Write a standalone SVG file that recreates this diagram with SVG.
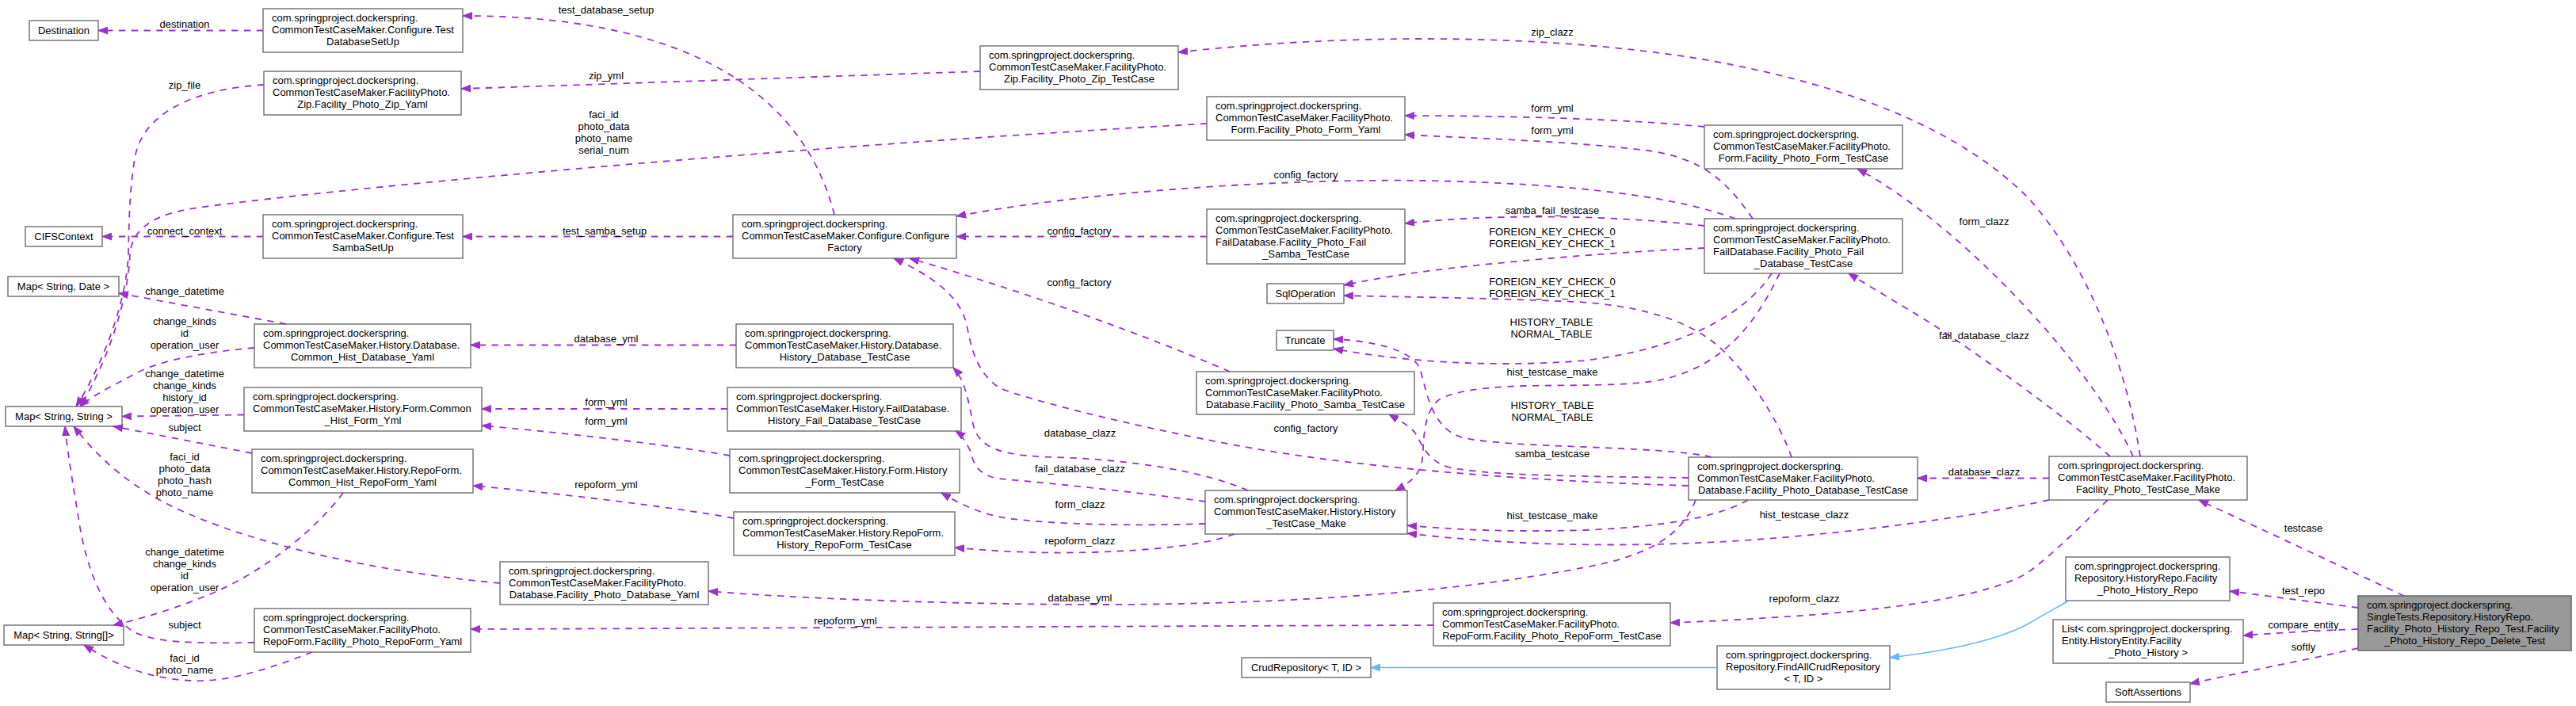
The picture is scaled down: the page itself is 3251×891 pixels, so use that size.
<svg xmlns="http://www.w3.org/2000/svg" width="3251" height="891" viewBox="0 0 3251 891">
<style>
text{font-family:"Liberation Sans",Arial,sans-serif;font-size:13px;fill:#000}
.m{text-anchor:middle}
.n rect{fill:#fff;stroke:#777;stroke-width:1.5}
.main rect{fill:#999;stroke:#666;stroke-width:1.5}
.e{fill:none;stroke:#9a32cd;stroke-width:1.8;stroke-dasharray:8.3,7.5;marker-end:url(#ap)}
.b{fill:none;stroke:#63b8ff;stroke-width:1.6;marker-end:url(#ab)}
</style>
<defs>
<marker id="ap" viewBox="0 0 12 10" refX="12" refY="5" markerWidth="12" markerHeight="10" markerUnits="userSpaceOnUse" orient="auto"><path d="M0,0.5 L12,5 L0,9.5 z" fill="#9a32cd" stroke="#9a32cd" stroke-width="1" stroke-dasharray="none"/></marker>
<marker id="ab" viewBox="0 0 12 10" refX="12" refY="5" markerWidth="12" markerHeight="10" markerUnits="userSpaceOnUse" orient="auto"><path d="M0,0.5 L12,5 L0,9.5 z" fill="#63b8ff" stroke="#63b8ff" stroke-width="1"/></marker>
</defs>
<rect width="3251" height="891" fill="#fff"/>

<g id="nodes">
<g id="n1" class="n"><rect x="37" y="26" width="87" height="25"/><text class="m" x="80.5" y="43">Destination</text></g>
<g id="n2" class="n"><rect x="332" y="11" width="252" height="55"/><text x="343" y="27">com.springproject.dockerspring.</text><text x="343" y="42">CommonTestCaseMaker.Configure.Test</text><text class="m" x="458" y="57">DatabaseSetUp</text></g>
<g id="n3" class="n"><rect x="333" y="90" width="249" height="55"/><text x="344" y="106">com.springproject.dockerspring.</text><text x="344" y="121">CommonTestCaseMaker.FacilityPhoto.</text><text class="m" x="457.5" y="136">Zip.Facility_Photo_Zip_Yaml</text></g>
<g id="n4" class="n"><rect x="32" y="286" width="97" height="25"/><text class="m" x="80.5" y="303">CIFSContext</text></g>
<g id="n5" class="n"><rect x="332" y="271" width="252" height="55"/><text x="343" y="287">com.springproject.dockerspring.</text><text x="343" y="302">CommonTestCaseMaker.Configure.Test</text><text class="m" x="458" y="317">SambaSetUp</text></g>
<g id="n6" class="n"><rect x="10" y="349" width="140" height="25"/><text class="m" x="80" y="366">Map&lt; String, Date &gt;</text></g>
<g id="n7" class="n"><rect x="321" y="409" width="273" height="55"/><text x="332" y="425">com.springproject.dockerspring.</text><text x="332" y="440">CommonTestCaseMaker.History.Database.</text><text class="m" x="457.5" y="455">Common_Hist_Database_Yaml</text></g>
<g id="n8" class="n"><rect x="7" y="513" width="147" height="25"/><text class="m" x="80.5" y="530">Map&lt; String, String &gt;</text></g>
<g id="n9" class="n"><rect x="308" y="489" width="300" height="55"/><text x="319" y="505">com.springproject.dockerspring.</text><text x="319" y="520">CommonTestCaseMaker.History.Form.Common</text><text class="m" x="458" y="535">_Hist_Form_Yml</text></g>
<g id="n10" class="n"><rect x="318" y="567" width="279" height="55"/><text x="329" y="583">com.springproject.dockerspring.</text><text x="329" y="598">CommonTestCaseMaker.History.RepoForm.</text><text class="m" x="457.5" y="613">Common_Hist_RepoForm_Yaml</text></g>
<g id="n11" class="n"><rect x="5" y="789" width="151" height="25"/><text class="m" x="80.5" y="806">Map&lt; String, String[]&gt;</text></g>
<g id="n12" class="n"><rect x="321" y="768" width="273" height="55"/><text x="332" y="784">com.springproject.dockerspring.</text><text x="332" y="799">CommonTestCaseMaker.FacilityPhoto.</text><text class="m" x="457.5" y="814">RepoForm.Facility_Photo_RepoForm_Yaml</text></g>
<g id="n13" class="n"><rect x="631" y="709" width="263" height="54"/><text x="642" y="725">com.springproject.dockerspring.</text><text x="642" y="740">CommonTestCaseMaker.FacilityPhoto.</text><text class="m" x="762.5" y="755">Database.Facility_Photo_Database_Yaml</text></g>
<g id="n14" class="n"><rect x="925" y="271" width="282" height="55"/><text x="936" y="287">com.springproject.dockerspring.</text><text x="936" y="302">CommonTestCaseMaker.Configure.Configure</text><text class="m" x="1066" y="317">Factory</text></g>
<g id="n15" class="n"><rect x="1237" y="58" width="250" height="55"/><text x="1248" y="74">com.springproject.dockerspring.</text><text x="1248" y="89">CommonTestCaseMaker.FacilityPhoto.</text><text class="m" x="1362" y="104">Zip.Facility_Photo_Zip_TestCase</text></g>
<g id="n16" class="n"><rect x="929" y="409" width="274" height="55"/><text x="940" y="425">com.springproject.dockerspring.</text><text x="940" y="440">CommonTestCaseMaker.History.Database.</text><text class="m" x="1066" y="455">History_Database_TestCase</text></g>
<g id="n17" class="n"><rect x="918" y="489" width="295" height="55"/><text x="929" y="505">com.springproject.dockerspring.</text><text x="929" y="520">CommonTestCaseMaker.History.FailDatabase.</text><text class="m" x="1065.5" y="535">History_Fail_Database_TestCase</text></g>
<g id="n18" class="n"><rect x="921" y="567" width="290" height="55"/><text x="932" y="583">com.springproject.dockerspring.</text><text x="932" y="598">CommonTestCaseMaker.History.Form.History</text><text class="m" x="1066" y="613">_Form_TestCase</text></g>
<g id="n19" class="n"><rect x="926" y="646" width="279" height="55"/><text x="937" y="662">com.springproject.dockerspring.</text><text x="937" y="677">CommonTestCaseMaker.History.RepoForm.</text><text class="m" x="1065.5" y="692">History_RepoForm_TestCase</text></g>
<g id="n20" class="n"><rect x="1523" y="122" width="250" height="55"/><text x="1534" y="138">com.springproject.dockerspring.</text><text x="1534" y="153">CommonTestCaseMaker.FacilityPhoto.</text><text class="m" x="1648" y="168">Form.Facility_Photo_Form_Yaml</text></g>
<g id="n21" class="n"><rect x="1523" y="264" width="250" height="69"/><text x="1534" y="280">com.springproject.dockerspring.</text><text x="1534" y="295">CommonTestCaseMaker.FacilityPhoto.</text><text x="1534" y="310">FailDatabase.Facility_Photo_Fail</text><text class="m" x="1648" y="325">_Samba_TestCase</text></g>
<g id="n22" class="n"><rect x="1599" y="358" width="97" height="25"/><text class="m" x="1647.5" y="375">SqlOperation</text></g>
<g id="n23" class="n"><rect x="1611" y="417" width="72" height="25"/><text class="m" x="1647" y="434">Truncate</text></g>
<g id="n24" class="n"><rect x="2151" y="158" width="250" height="55"/><text x="2162" y="174">com.springproject.dockerspring.</text><text x="2162" y="189">CommonTestCaseMaker.FacilityPhoto.</text><text class="m" x="2276" y="204">Form.Facility_Photo_Form_TestCase</text></g>
<g id="n25" class="n"><rect x="2151" y="276" width="250" height="69"/><text x="2162" y="292">com.springproject.dockerspring.</text><text x="2162" y="307">CommonTestCaseMaker.FacilityPhoto.</text><text x="2162" y="322">FailDatabase.Facility_Photo_Fail</text><text class="m" x="2276" y="337">_Database_TestCase</text></g>
<g id="n26" class="n"><rect x="1510" y="469" width="275" height="54"/><text x="1521" y="485">com.springproject.dockerspring.</text><text x="1521" y="500">CommonTestCaseMaker.FacilityPhoto.</text><text class="m" x="1647.5" y="515">Database.Facility_Photo_Samba_TestCase</text></g>
<g id="n27" class="n"><rect x="1521" y="619" width="255" height="55"/><text x="1532" y="635">com.springproject.dockerspring.</text><text x="1532" y="650">CommonTestCaseMaker.History.History</text><text class="m" x="1648.5" y="665">_TestCase_Make</text></g>
<g id="n28" class="n"><rect x="2131" y="577" width="289" height="54"/><text x="2142" y="593">com.springproject.dockerspring.</text><text x="2142" y="608">CommonTestCaseMaker.FacilityPhoto.</text><text class="m" x="2275.5" y="623">Database.Facility_Photo_Database_TestCase</text></g>
<g id="n29" class="n"><rect x="1809" y="761" width="299" height="54"/><text x="1820" y="777">com.springproject.dockerspring.</text><text x="1820" y="792">CommonTestCaseMaker.FacilityPhoto.</text><text class="m" x="1958.5" y="807">RepoForm.Facility_Photo_RepoForm_TestCase</text></g>
<g id="n30" class="n"><rect x="1567" y="830" width="163" height="25"/><text class="m" x="1648.5" y="847">CrudRepository&lt; T, ID &gt;</text></g>
<g id="n31" class="n"><rect x="2167" y="815" width="218" height="55"/><text x="2178" y="831">com.springproject.dockerspring.</text><text x="2178" y="846">Repository.FindAllCrudRepository</text><text class="m" x="2276" y="861">&lt; T, ID &gt;</text></g>
<g id="n32" class="n"><rect x="2586" y="576" width="250" height="55"/><text x="2597" y="592">com.springproject.dockerspring.</text><text x="2597" y="607">CommonTestCaseMaker.FacilityPhoto.</text><text class="m" x="2711" y="622">Facility_Photo_TestCase_Make</text></g>
<g id="n33" class="n"><rect x="2607" y="703" width="207" height="55"/><text x="2618" y="719">com.springproject.dockerspring.</text><text x="2618" y="734">Repository.HistoryRepo.Facility</text><text class="m" x="2710.5" y="749">_Photo_History_Repo</text></g>
<g id="n34" class="n"><rect x="2591" y="782" width="240" height="55"/><text x="2602" y="798">List&lt; com.springproject.dockerspring.</text><text x="2602" y="813">Entity.HistoryEntity.Facility</text><text class="m" x="2711" y="828">_Photo_History &gt;</text></g>
<g id="n35" class="n"><rect x="2658" y="861" width="106" height="25"/><text class="m" x="2711" y="878">SoftAssertions</text></g>
<g id="n36" class="main"><rect x="2976" y="752" width="269" height="69"/><text x="2987" y="768">com.springproject.dockerspring.</text><text x="2987" y="783">SingleTests.Repository.HistoryRepo.</text><text x="2987" y="798">Facility_Photo_History_Repo_Test.Facility</text><text class="m" x="3110.5" y="813">_Photo_History_Repo_Delete_Test</text></g>
</g>

<g id="connectors">
<path class="e" d="M332,38.5 L124,38.5"/><text class="m" x="233" y="35">destination</text>
<path class="e" d="M1053,271 C1020,140 900,20 584,20"/><text class="m" x="765" y="16.5">test_database_setup</text>
<path class="e" d="M1237,90 C1000,98 800,105 582,112"/><text class="m" x="765" y="99.5">zip_yml</text>
<path class="e" d="M333,107 C250,112 180,140 170,200 C163,245 163,280 162,320 C160,380 130,460 96,513"/><text class="m" x="233" y="111.5">zip_file</text>
<path class="e" d="M332,298.5 L129,298.5"/><text class="m" x="233" y="295.5">connect_context</text>
<path class="e" d="M925,298.5 L584,298.5"/><text class="m" x="763" y="295.5">test_samba_setup</text>
<path class="e" d="M1523,156 C1000,185 450,235 250,262 C200,269 168,285 164,320 C162,380 134,460 101,513"/><text class="m" x="762" y="149"><tspan x="762">faci_id</tspan><tspan x="762" dy="15">photo_data</tspan><tspan x="762" dy="15">photo_name</tspan><tspan x="762" dy="15">serial_num</tspan></text>
<path class="e" d="M361,409 L150,370"/><text class="m" x="233" y="371.5">change_datetime</text>
<path class="e" d="M321,439 C260,444 200,455 170,472 C140,488 115,500 101,513"/><text class="m" x="233" y="409.5"><tspan x="233">change_kinds</tspan><tspan x="233" dy="15">id</tspan><tspan x="233" dy="15">operation_user</tspan></text>
<path class="e" d="M308,523.5 L154,525.5"/><text class="m" x="233" y="476"><tspan x="233">change_datetime</tspan><tspan x="233" dy="15">change_kinds</tspan><tspan x="233" dy="15">history_id</tspan><tspan x="233" dy="15">operation_user</tspan></text>
<path class="e" d="M318,572 L143,538"/><text class="m" x="233" y="543.5">subject</text>
<path class="e" d="M433,622 C405,660 340,720 260,752 C210,772 170,783 143,789"/><text class="m" x="233" y="700.5"><tspan x="233">change_datetime</tspan><tspan x="233" dy="15">change_kinds</tspan><tspan x="233" dy="15">id</tspan><tspan x="233" dy="15">operation_user</tspan></text>
<path class="e" d="M321,811 C250,812 190,812 165,795 C130,770 110,720 100,660 C92,610 85,570 82,538"/><text class="m" x="233" y="792.5">subject</text>
<path class="e" d="M394,823 C350,840 290,862 240,859 C190,856 150,842 106,814"/><text class="m" x="233" y="835"><tspan x="233">faci_id</tspan><tspan x="233" dy="15">photo_name</tspan></text>
<path class="e" d="M631,736 C480,722 330,690 230,645 C170,618 130,585 93,538"/><text class="m" x="233" y="581"><tspan x="233">faci_id</tspan><tspan x="233" dy="15">photo_data</tspan><tspan x="233" dy="15">photo_hash</tspan><tspan x="233" dy="15">photo_name</tspan></text>
<path class="e" d="M929,435.5 L594,435.5"/><text class="m" x="765" y="432">database_yml</text>
<path class="e" d="M918,516 L608,516"/><text class="m" x="765" y="512">form_yml</text>
<path class="e" d="M921,575 C850,562 700,545 608,537"/><text class="m" x="765" y="536">form_yml</text>
<path class="e" d="M926,654 C850,640 700,622 597,613"/><text class="m" x="765" y="615.5">repoform_yml</text>
<path class="e" d="M1809,789 C1500,790 900,793 594,794"/><text class="m" x="1067" y="787.5">repoform_yml</text>
<path class="e" d="M2140,631 C2125,670 2090,700 2000,716 C1850,745 1650,762 1400,763 C1200,763 1000,755 894,746"/><text class="m" x="1363" y="759">database_yml</text>
<path class="e" d="M2206,631 C2170,652 2100,665 2000,669 C1900,672 1830,668 1776,663"/><text class="m" x="1959" y="655">hist_testcase_make</text>
<path class="e" d="M2586,631 C2500,650 2350,672 2200,682 C2050,692 1900,688 1776,673"/><text class="m" x="2277" y="653.5">hist_testcase_clazz</text>
<path class="e" d="M2246,345 C2215,410 2170,470 2080,482 C1990,492 1880,478 1820,502 C1795,515 1797,560 1795,580 C1792,600 1778,610 1761,619"/><text class="m" x="1959" y="473.5">hist_testcase_make</text>
<path class="e" d="M2236,345 C2200,400 2120,440 2000,455 C1880,465 1760,455 1683,440"/><text class="m" x="1958" y="410.5"><tspan x="1958">HISTORY_TABLE</tspan><tspan x="1958" dy="15">NORMAL_TABLE</tspan></text>
<path class="e" d="M2160,577 C2100,562 1900,566 1845,552 C1805,540 1800,490 1792,465 C1780,440 1730,430 1683,428"/><text class="m" x="1959" y="515.5"><tspan x="1959">HISTORY_TABLE</tspan><tspan x="1959" dy="15">NORMAL_TABLE</tspan></text>
<path class="e" d="M2151,313 C2000,320 1850,335 1780,345 C1740,351 1715,356 1696,360"/><text class="m" x="1959" y="297"><tspan x="1959">FOREIGN_KEY_CHECK_0</tspan><tspan x="1959" dy="15">FOREIGN_KEY_CHECK_1</tspan></text>
<path class="e" d="M2261,577 C2245,530 2200,460 2160,430 C2120,400 2060,385 1990,381 C1880,376 1780,375 1696,373"/><text class="m" x="1959" y="360"><tspan x="1959">FOREIGN_KEY_CHECK_0</tspan><tspan x="1959" dy="15">FOREIGN_KEY_CHECK_1</tspan></text>
<path class="e" d="M2151,285 C2050,273 1900,268 1773,282"/><text class="m" x="1959" y="269.5">samba_fail_testcase</text>
<path class="e" d="M2190,276 C2120,250 2000,232 1800,228 C1600,225 1350,245 1207,273"/><text class="m" x="1648" y="224.5">config_factory</text>
<path class="e" d="M1523,298.5 L1207,298.5"/><text class="m" x="1362" y="295.5">config_factory</text>
<path class="e" d="M2212,276 C2180,230 2150,200 2080,190 C1980,178 1870,175 1773,170"/><text class="m" x="1959" y="169">form_yml</text>
<path class="e" d="M2151,160 C2050,150 1900,146 1773,146"/><text class="m" x="1959" y="141">form_yml</text>
<path class="e" d="M2701,576 C2685,470 2640,340 2560,250 C2480,170 2350,110 2150,75 C1950,42 1700,42 1487,66"/><text class="m" x="1959" y="44.5">zip_clazz</text>
<path class="e" d="M2692,576 C2640,460 2470,280 2344,213"/><text class="m" x="2504" y="284">form_clazz</text>
<path class="e" d="M2663,576 C2600,520 2500,450 2440,410 C2400,385 2360,362 2333,345"/><text class="m" x="2504" y="428">fail_database_clazz</text>
<path class="e" d="M2586,603.5 L2420,603.5"/><text class="m" x="2504" y="600">database_clazz</text>
<path class="e" d="M2660,631 C2620,670 2590,700 2560,722 C2520,748 2420,765 2300,775 C2220,781 2160,784 2108,786"/><text class="m" x="2277" y="760">repoform_clazz</text>
<path class="e" d="M3034,752 L2775,631"/><text class="m" x="2907" y="671">testcase</text>
<path class="e" d="M2976,767 L2814,746"/><text class="m" x="2907" y="749.5">test_repo</text>
<path class="e" d="M2976,794 C2920,796 2870,799 2831,802"/><text class="m" x="2907" y="793">compare_entity</text>
<path class="e" d="M2976,818 C2900,835 2820,850 2764,863"/><text class="m" x="2907" y="821">softly</text>
<path class="b" d="M2611,758 C2590,770 2575,778 2562,786 C2520,810 2450,822 2385,830"/>
<path class="b" d="M2167,842.5 L1730,842.5"/>
<path class="e" d="M1575,619 C1520,595 1430,580 1330,577 C1260,575 1235,565 1228,535 C1222,505 1218,480 1203,464"/><text class="m" x="1363" y="551">database_clazz</text>
<path class="e" d="M1521,633 C1440,622 1340,611 1260,604 C1235,600 1228,585 1225,570 C1220,560 1215,550 1206,544"/><text class="m" x="1363" y="596">fail_database_clazz</text>
<path class="e" d="M1521,661 C1430,664 1330,662 1270,654 C1235,648 1210,635 1188,622"/><text class="m" x="1363" y="641">form_clazz</text>
<path class="e" d="M1558,674 C1520,688 1460,694 1380,697 C1300,699 1250,695 1205,691"/><text class="m" x="1363" y="687">repoform_clazz</text>
<path class="e" d="M1552,469 C1450,425 1300,370 1148,326"/><text class="m" x="1362" y="360.5">config_factory</text>
<path class="e" d="M2131,613 C1900,606 1700,588 1560,562 C1430,538 1300,505 1262,490 C1232,470 1226,440 1220,410 C1212,375 1180,350 1128,326"/><text class="m" x="1648" y="545">config_factory</text>
<path class="e" d="M2131,603 C1980,601 1880,600 1830,590 C1800,582 1795,560 1785,545 C1775,535 1765,530 1753,523"/><text class="m" x="1959" y="576.5">samba_testcase</text>
</g>
</svg>
